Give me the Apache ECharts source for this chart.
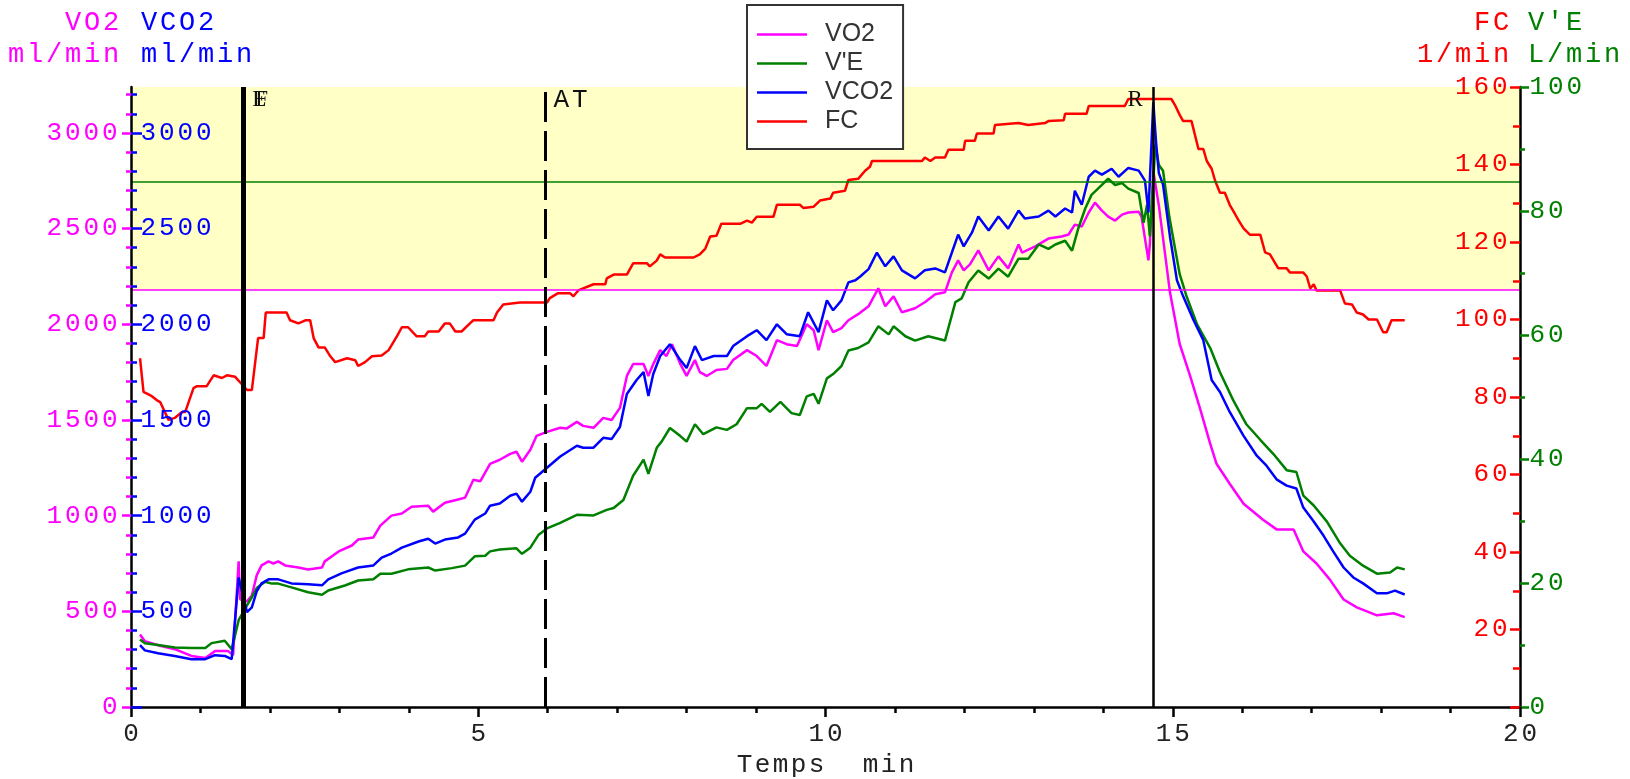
<!DOCTYPE html>
<html>
<head>
<meta charset="utf-8">
<title>VO2 VCO2 V'E FC</title>
<script src="https://cdn.jsdelivr.net/npm/echarts@6.0.0/dist/echarts.min.js"></script>
<style>
    html, body { margin: 0; padding: 0; background: #fff; }
    #chart { width: 1630px; height: 779px; }
</style>
</head>
<body>
<div id="chart"></div>
<script>
// [temps (min), valeur]
var vo2 = [[0.13,379],[0.20,344],[0.39,323],[0.63,302],[0.87,267],[1.07,256],[1.21,292],[1.40,292],[1.47,271],[1.55,761],[1.57,563],[1.67,552],[1.74,583],[1.81,688],[1.88,740],[1.98,761],[2.05,750],[2.12,761],[2.22,740],[2.41,729],[2.55,719],[2.75,729],[2.79,761],[2.99,813],[3.18,844],[3.27,875],[3.49,886],[3.59,948],[3.75,1000],[3.90,1011],[4.04,1046],[4.28,1052],[4.35,1021],[4.52,1067],[4.71,1084],[4.81,1094],[4.93,1188],[5.03,1180],[5.17,1271],[5.31,1292],[5.46,1323],[5.55,1334],[5.63,1282],[5.75,1344],[5.84,1417],[5.99,1438],[6.18,1459],[6.27,1455],[6.42,1490],[6.51,1469],[6.66,1459],[6.80,1511],[6.92,1500],[7.04,1563],[7.14,1730],[7.23,1792],[7.38,1792],[7.45,1730],[7.52,1792],[7.62,1865],[7.71,1834],[7.79,1896],[7.91,1792],[8.00,1730],[8.12,1813],[8.19,1750],[8.29,1730],[8.43,1761],[8.58,1767],[8.67,1813],[8.87,1865],[9.01,1834],[9.15,1782],[9.30,1917],[9.44,1896],[9.59,1886],[9.73,2000],[9.83,1969],[9.90,1865],[10.02,2021],[10.11,1959],[10.23,1980],[10.33,2021],[10.47,2053],[10.62,2094],[10.76,2188],[10.86,2094],[10.98,2146],[11.10,2063],[11.29,2084],[11.43,2115],[11.58,2157],[11.72,2167],[11.82,2271],[11.91,2334],[11.99,2282],[12.08,2313],[12.20,2386],[12.35,2282],[12.49,2355],[12.63,2292],[12.78,2417],[12.83,2375],[13.02,2407],[13.21,2448],[13.40,2459],[13.50,2469],[13.59,2521],[13.69,2511],[13.79,2584],[13.88,2636],[13.98,2594],[14.07,2563],[14.17,2542],[14.27,2573],[14.36,2584],[14.51,2588],[14.55,2563],[14.65,2334],[14.67,2417],[14.72,2800],[14.80,2620],[14.96,2167],[15.10,1897],[15.25,1730],[15.39,1563],[15.54,1375],[15.63,1271],[15.82,1167],[16.02,1062],[16.30,979],[16.50,927],[16.74,927],[16.88,813],[17.07,750],[17.26,667],[17.46,562],[17.65,521],[17.94,479],[18.18,490],[18.34,470]];

var vco2 = [[0.13,323],[0.20,296],[0.39,281],[0.63,267],[0.87,250],[1.07,250],[1.21,271],[1.35,267],[1.45,250],[1.55,677],[1.67,496],[1.74,521],[1.81,604],[1.88,646],[1.98,667],[2.12,667],[2.31,646],[2.55,642],[2.75,636],[2.84,667],[3.03,698],[3.27,729],[3.49,740],[3.61,781],[3.75,802],[3.90,833],[4.14,865],[4.28,879],[4.38,854],[4.52,875],[4.71,886],[4.81,906],[4.95,979],[5.10,1011],[5.17,1052],[5.31,1063],[5.46,1104],[5.55,1115],[5.63,1073],[5.75,1125],[5.82,1198],[5.99,1250],[6.18,1309],[6.42,1365],[6.51,1355],[6.66,1355],[6.80,1407],[6.92,1400],[7.04,1463],[7.14,1636],[7.28,1709],[7.38,1750],[7.45,1625],[7.52,1740],[7.62,1834],[7.76,1896],[7.91,1813],[8.00,1771],[8.12,1886],[8.22,1813],[8.39,1834],[8.58,1834],[8.67,1886],[8.87,1938],[9.01,1969],[9.15,1917],[9.30,2000],[9.44,1948],[9.63,1938],[9.75,2063],[9.90,1959],[10.02,2125],[10.11,2073],[10.23,2125],[10.33,2219],[10.43,2230],[10.50,2250],[10.62,2288],[10.74,2375],[10.86,2303],[10.98,2355],[11.10,2282],[11.29,2240],[11.43,2282],[11.58,2292],[11.72,2271],[11.82,2375],[11.91,2469],[11.99,2407],[12.11,2480],[12.20,2563],[12.35,2490],[12.49,2563],[12.63,2500],[12.78,2594],[12.87,2553],[13.07,2563],[13.21,2594],[13.31,2563],[13.45,2605],[13.55,2584],[13.59,2698],[13.69,2625],[13.79,2771],[13.88,2803],[13.98,2782],[14.12,2813],[14.22,2771],[14.36,2817],[14.51,2803],[14.60,2751],[14.65,2584],[14.67,2751],[14.72,3160],[14.76,2950],[14.80,2790],[14.86,2730],[14.96,2459],[15.06,2230],[15.15,2146],[15.30,2021],[15.44,1917],[15.56,1709],[15.68,1646],[15.82,1542],[16.02,1417],[16.21,1313],[16.35,1261],[16.50,1188],[16.64,1157],[16.78,1142],[16.88,1042],[17.03,969],[17.17,896],[17.31,813],[17.46,729],[17.60,677],[17.74,646],[17.94,594],[18.08,594],[18.20,608],[18.34,588]];

var ve = [[0.13,10.9],[0.20,10.3],[0.39,10.0],[0.63,9.6],[0.87,9.5],[1.07,9.5],[1.16,10.3],[1.35,10.7],[1.45,9.3],[1.55,14.0],[1.67,16.4],[1.74,17.7],[1.81,19.2],[1.93,20.2],[2.03,19.9],[2.12,19.9],[2.31,19.3],[2.55,18.5],[2.75,18.1],[2.84,18.8],[3.08,19.6],[3.27,20.4],[3.49,20.6],[3.59,21.5],[3.75,21.5],[3.99,22.2],[4.28,22.5],[4.38,22.0],[4.62,22.4],[4.81,22.8],[4.95,24.3],[5.10,24.4],[5.17,25.1],[5.31,25.4],[5.55,25.6],[5.63,24.7],[5.75,25.7],[5.87,27.8],[5.99,28.8],[6.18,29.7],[6.42,31.0],[6.66,30.9],[6.85,31.8],[6.95,32.1],[7.09,33.4],[7.23,37.3],[7.38,39.9],[7.45,37.6],[7.57,41.8],[7.64,42.8],[7.76,45.0],[7.91,43.7],[8.00,42.8],[8.12,45.6],[8.24,44.0],[8.43,45.1],[8.58,44.7],[8.72,45.6],[8.87,48.2],[9.01,48.2],[9.08,48.9],[9.20,47.6],[9.35,49.2],[9.51,47.4],[9.63,47.1],[9.73,50.1],[9.83,50.5],[9.90,48.9],[10.02,53.0],[10.11,53.7],[10.23,55.0],[10.33,57.5],[10.47,57.9],[10.62,58.8],[10.76,61.4],[10.91,60.1],[10.98,61.4],[11.15,59.8],[11.29,59.1],[11.48,59.8],[11.72,59.1],[11.87,65.3],[11.96,65.9],[12.06,68.5],[12.20,70.4],[12.35,69.1],[12.49,70.7],[12.63,69.4],[12.78,72.3],[12.92,72.3],[13.07,74.6],[13.21,73.9],[13.31,74.6],[13.45,75.2],[13.55,73.6],[13.64,77.2],[13.74,80.4],[13.83,82.6],[13.98,84.2],[14.07,85.2],[14.17,84.2],[14.27,84.5],[14.36,83.6],[14.51,82.9],[14.58,78.1],[14.63,81.0],[14.67,75.9],[14.75,90.7],[14.80,87.4],[14.86,86.5],[14.95,79.1],[15.10,69.8],[15.20,66.2],[15.35,61.7],[15.54,57.9],[15.68,54.0],[15.87,49.5],[16.06,45.6],[16.26,43.1],[16.45,40.8],[16.64,38.2],[16.78,37.9],[16.88,34.1],[17.03,32.5],[17.22,29.9],[17.41,26.4],[17.55,24.4],[17.74,22.8],[17.94,21.5],[18.13,21.7],[18.23,22.5],[18.34,22.2]];

var fc = [[0.13,90.0],[0.18,81.3],[0.30,80.2],[0.37,79.2],[0.42,78.7],[0.54,74.1],[0.63,74.6],[0.73,76.1],[0.78,76.1],[0.90,82.3],[0.95,82.8],[1.09,82.8],[1.19,85.6],[1.31,84.9],[1.38,85.6],[1.50,85.2],[1.57,83.8],[1.67,81.8],[1.74,81.8],[1.83,95.2],[1.91,95.2],[1.94,101.8],[2.24,101.8],[2.29,99.8],[2.41,99.0],[2.51,99.8],[2.58,99.8],[2.63,95.2],[2.70,92.8],[2.79,92.8],[2.87,90.5],[2.94,89.0],[3.11,90.0],[3.23,89.5],[3.27,88.0],[3.37,89.0],[3.47,90.5],[3.61,90.7],[3.71,92.1],[3.83,95.7],[3.90,98.0],[3.99,98.0],[4.11,95.7],[4.23,95.7],[4.28,96.9],[4.43,96.9],[4.52,99.0],[4.59,99.0],[4.67,96.9],[4.76,96.9],[4.88,99.0],[4.93,99.8],[5.22,99.8],[5.27,101.8],[5.36,103.9],[5.60,104.4],[5.99,104.4],[6.03,105.5],[6.15,106.8],[6.32,106.8],[6.37,106.0],[6.44,107.5],[6.66,109.1],[6.83,109.1],[6.85,110.6],[6.95,111.6],[7.14,111.6],[7.23,114.5],[7.43,114.5],[7.47,113.7],[7.57,115.2],[7.62,116.8],[7.69,116.0],[8.10,116.0],[8.19,116.8],[8.27,118.3],[8.34,121.4],[8.43,121.6],[8.50,124.7],[8.77,124.7],[8.87,125.5],[8.94,125.0],[9.01,126.5],[9.25,126.5],[9.30,129.6],[9.63,129.6],[9.68,128.8],[9.83,129.1],[9.92,130.7],[10.07,131.2],[10.11,132.7],[10.28,133.2],[10.33,136.0],[10.47,136.3],[10.57,138.4],[10.64,139.4],[10.67,140.9],[11.39,140.9],[11.43,141.8],[11.51,140.9],[11.58,141.8],[11.72,141.8],[11.77,143.8],[11.99,143.8],[12.01,146.1],[12.15,146.1],[12.18,148.0],[12.42,148.0],[12.44,150.2],[12.78,150.7],[12.92,150.2],[13.16,150.7],[13.21,151.2],[13.43,151.4],[13.45,153.1],[13.76,153.1],[13.79,155.1],[14.31,155.1],[14.36,156.9],[14.98,156.9],[15.03,155.4],[15.10,152.8],[15.15,151.2],[15.27,151.2],[15.32,147.6],[15.37,144.0],[15.44,144.0],[15.49,140.9],[15.56,138.9],[15.61,135.8],[15.68,132.7],[15.75,132.7],[15.82,129.6],[15.90,127.1],[15.95,125.5],[16.02,123.5],[16.11,121.9],[16.26,121.9],[16.33,117.3],[16.40,116.8],[16.47,114.7],[16.52,113.2],[16.64,113.2],[16.69,112.1],[16.88,112.1],[16.93,111.1],[16.98,108.0],[17.03,109.1],[17.07,107.5],[17.41,107.5],[17.48,104.1],[17.58,103.9],[17.65,101.8],[17.74,101.3],[17.82,100.0],[17.94,100.0],[18.03,96.7],[18.08,96.7],[18.15,99.8],[18.34,99.8]];

var vo2Target = 2180;   // ligne rose, bas de la zone jaune
var veTarget = 84.7;    // ligne verte
var eventTimes = [1.61, 5.97, 14.72];
var eventNames = ['EF', 'AT', 'R'];   // E et F sont au même instant (libellés superposés)

var vo2Max = 3240;
var vo2Labels = [0, 500, 1000, 1500, 2000, 2500, 3000];
var vco2Labels = [500, 1000, 1500, 2000, 2500, 3000];
var vo2Minor = [];
for (var v = 100; v < vo2Max; v += 100) {
    if (v % 500 !== 0) vo2Minor.push(v);
}

var MONO = 'Liberation Mono';
var PINK = '#ff00ff', BLUE = '#0000ff', GREEN = '#008000', RED = '#ff0000';

// texte "Courier" espacé : une case de largeur fixe par caractère
function spaced(text, key) {
    return String(text).split('').map(function (c) {
        return '{' + key + '|' + (c === ' ' ? '\u00a0' : c) + '}';
    }).join('');
}
function box(color, w, size) {
    return { width: w, align: 'center', fontFamily: MONO, fontSize: size || 26, color: color, fill: color };
}
function tickLabel(color, extra) {
    var o = {
        fontFamily: MONO, fontSize: 26, color: color, hideOverlap: false,
        formatter: function (val) { return spaced(val, 'd'); },
        rich: { d: box(color, 18.5) }
    };
    for (var k in extra) o[k] = extra[k];
    return o;
}
function topText(txt, color, x, y, align) {
    return {
        type: 'text', x: x, y: y, silent: true, z: 10,
        style: { text: spaced(txt, 't'), rich: { t: box(color, 19, 27) }, align: align, verticalAlign: 'middle' }
    };
}
var serifStyle = { fontFamily: 'Liberation Serif', fontSize: 23, color: '#111' };
var eventLabels = [
    // E et F dessinés presque l'un sur l'autre (case étroite pour E)
    { show: true, formatter: '{z|E}{s|F}', position: 'right', distance: 9,
      rich: { z: Object.assign({ width: 3, align: 'left' }, serifStyle), s: serifStyle } },
    { show: true, formatter: spaced('AT', 'a'), rich: { a: box('#111', 18.5) }, position: 'right', distance: 6 },
    Object.assign({ show: true, formatter: 'R', position: 'left', distance: 10 }, serifStyle)
];

var chart = echarts.init(document.getElementById('chart'));

var option = {
    animation: false,
    backgroundColor: '#fff',
    grid: { left: 131, right: 110, top: 87, bottom: 72, outerBoundsMode: 'none' },
    legend: {
        data: ['VO2', "V'E", 'VCO2', 'FC'],
        orient: 'vertical',
        left: 747, top: 5,
        icon: 'rect',
        itemWidth: 50, itemHeight: 2.5, itemGap: 4,
        padding: [17, 10, 15, 10],
        backgroundColor: '#fff', borderColor: '#333', borderWidth: 2, borderRadius: 0,
        selectedMode: false,
        textStyle: { fontFamily: 'Liberation Sans', fontSize: 25, color: '#333', padding: [0, 0, 0, 13] }
    },
    graphic: [
        topText('VO2', PINK, 63.5, 23, 'left'),
        topText('VCO2', BLUE, 139.5, 23, 'left'),
        topText('ml/min', PINK, 6.5, 55, 'left'),
        topText('ml/min', BLUE, 139.5, 55, 'left'),
        topText('FC', RED, 1510.5, 23, 'right'),
        topText("V'E", GREEN, 1526.5, 23, 'left'),
        topText('1/min', RED, 1510.5, 55, 'right'),
        topText('L/min', GREEN, 1526.5, 55, 'left')
    ],
    xAxis: {
        type: 'value', min: 0, max: 20, interval: 5, z: 5,
        name: spaced('Temps  min', 'n'),
        nameLocation: 'middle', nameGap: 44,
        nameTextStyle: { rich: { n: box('#222', 18) } },
        axisLine: { lineStyle: { color: '#000', width: 2.5 } },
        axisTick: { length: 10, lineStyle: { color: '#000', width: 2.5 } },
        minorTick: { show: true, splitNumber: 5, length: 6, lineStyle: { color: '#000', width: 2.5 } },
        splitLine: { show: false },
        axisLabel: tickLabel('#222', { margin: 14 })
    },
    yAxis: [
        {   // 0 : VO2
            type: 'value', position: 'left', min: 0, max: vo2Max, z: 5,
            axisLine: { show: true, lineStyle: { color: '#000', width: 2.5 } },
            axisTick: { show: true, customValues: vo2Labels, length: 9, lineStyle: { color: PINK, width: 2.5 } },
            axisLabel: tickLabel(PINK, { customValues: vo2Labels, margin: 12 }),
            splitLine: { show: false }
        },
        {   // 1 : VCO2
            type: 'value', position: 'left', min: 0, max: vo2Max, z: 6,
            axisLine: { show: false },
            axisTick: { show: true, inside: true, customValues: vo2Labels, length: 11, lineStyle: { color: BLUE, width: 2.5 } },
            axisLabel: tickLabel(BLUE, { customValues: vco2Labels, inside: true, margin: 8 }),
            splitLine: { show: false }
        },
        {   // 2 : petites graduations roses
            type: 'value', position: 'left', min: 0, max: vo2Max, z: 5,
            axisLine: { show: false }, axisLabel: { show: false }, splitLine: { show: false },
            axisTick: { show: true, customValues: vo2Minor, length: 5, lineStyle: { color: PINK, width: 2.5 } }
        },
        {   // 3 : petites graduations bleues
            type: 'value', position: 'left', min: 0, max: vo2Max, z: 6,
            axisLine: { show: false }, axisLabel: { show: false }, splitLine: { show: false },
            axisTick: { show: true, inside: true, customValues: vo2Minor, length: 6, lineStyle: { color: BLUE, width: 2.5 } }
        },
        {   // 4 : FC
            type: 'value', position: 'right', min: 0, max: 160, interval: 20, z: 5,
            axisLine: { show: true, lineStyle: { color: '#000', width: 2.5 } },
            axisTick: { show: true, inside: true, length: 10, lineStyle: { color: RED, width: 2.5 } },
            minorTick: { show: true, splitNumber: 2, length: 7, lineStyle: { color: RED, width: 2.5 } },
            axisLabel: tickLabel(RED, { inside: true, margin: 11, showMinLabel: false }),
            splitLine: { show: false }
        },
        {   // 5 : V'E
            type: 'value', position: 'right', min: 0, max: 100, interval: 20, z: 5,
            axisLine: { show: false },
            axisTick: { show: true, length: 9, lineStyle: { color: GREEN, width: 2.5 } },
            minorTick: { show: true, splitNumber: 2, length: 5, lineStyle: { color: GREEN, width: 2.5 } },
            axisLabel: tickLabel(GREEN, { margin: 8 }),
            splitLine: { show: false }
        }
    ],
    series: [
        {
            name: 'zone', type: 'line', yAxisIndex: 0, data: [], z: 1, silent: true,
            markArea: {
                silent: true,
                itemStyle: { color: '#ffffc6', opacity: 1 },
                data: [[{ yAxis: vo2Target }, { yAxis: vo2Max }]]
            },
            markLine: {
                silent: true, symbol: ['none', 'none'],
                label: { show: false },
                lineStyle: { color: PINK, width: 1.5, type: 'solid' },
                data: [{ yAxis: vo2Target }]
            }
        },
        {
            name: 'zoneVE', type: 'line', yAxisIndex: 5, data: [], z: 1, silent: true,
            markLine: {
                silent: true, symbol: ['none', 'none'],
                label: { show: false },
                lineStyle: { color: GREEN, width: 1.5, type: 'solid' },
                data: [{ yAxis: veTarget }]
            }
        },
        {
            name: 'FC', type: 'line', yAxisIndex: 4, data: fc, symbol: 'none', z: 2,
            lineStyle: { color: RED, width: 2.5 }, itemStyle: { color: RED }
        },
        {
            name: 'VO2', type: 'line', yAxisIndex: 0, data: vo2, symbol: 'none', z: 2,
            lineStyle: { color: PINK, width: 2.5 }, itemStyle: { color: PINK }
        },
        {
            name: "V'E", type: 'line', yAxisIndex: 5, data: ve, symbol: 'none', z: 2,
            lineStyle: { color: GREEN, width: 2.5 }, itemStyle: { color: GREEN }
        },
        {
            name: 'VCO2', type: 'line', yAxisIndex: 1, data: vco2, symbol: 'none', z: 2,
            lineStyle: { color: BLUE, width: 2.5 }, itemStyle: { color: BLUE }
        },
        {
            name: 'events', type: 'line', yAxisIndex: 0, data: [], z: 3, silent: true,
            markLine: {
                silent: true, symbol: ['none', 'none'],
                label: { show: false },
                data: [
                    { xAxis: eventTimes[0], lineStyle: { color: '#000', width: 5, type: 'solid' } },
                    { xAxis: eventTimes[1], lineStyle: { color: '#000', width: 3, type: [30, 9] } },
                    { xAxis: eventTimes[2], lineStyle: { color: '#000', width: 2.5, type: 'solid' } }
                ]
            },
            markPoint: {
                silent: true, symbol: 'rect', symbolSize: 1,
                itemStyle: { color: 'rgba(0,0,0,0)' },
                data: eventTimes.map(function (t, i) {
                    return { name: eventNames[i], coord: [t, 3170], label: eventLabels[i] };
                })
            }
        }
    ]
};

chart.setOption(option);
</script>
</body>
</html>
